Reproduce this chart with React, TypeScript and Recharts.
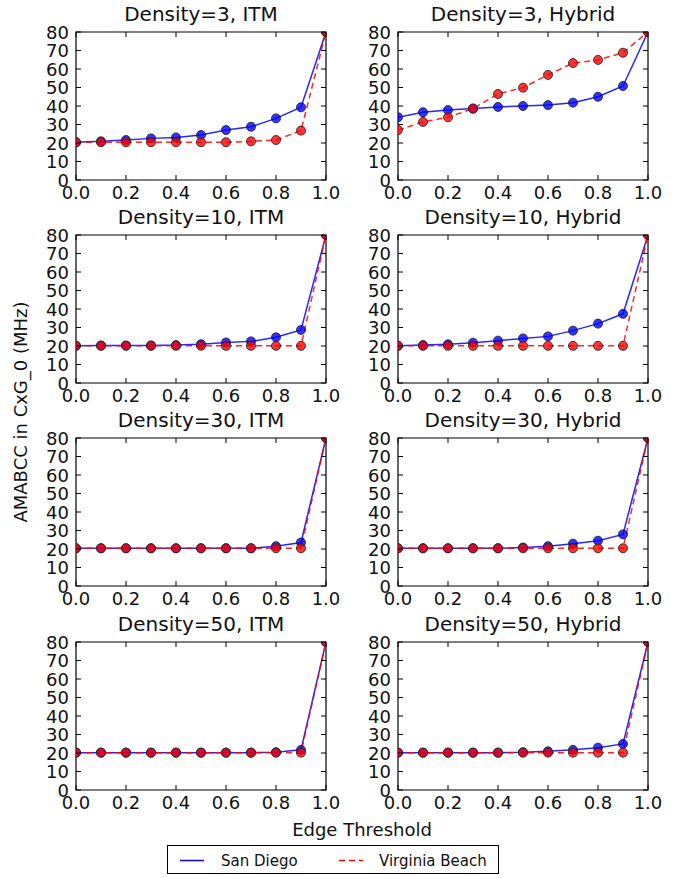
import React from 'react';
import { LineChart, Line, XAxis, YAxis, ReferenceArea } from 'recharts';

// edge threshold values on the x axis
const thresholds = [0, 0.1, 0.2, 0.3, 0.4, 0.5, 0.6, 0.7, 0.8, 0.9, 1.0];
const xTicks = [0, 0.2, 0.4, 0.6, 0.8, 1.0];
const yTicks = [0, 10, 20, 30, 40, 50, 60, 70, 80];

// San Diego (blue) / Virginia Beach (red), per density and model
const sd3Itm = [20.4, 20.9, 21.6, 22.5, 23.0, 24.3, 27.0, 28.8, 33.3, 39.3, 80];
const vb3Itm = [20.4, 20.4, 20.4, 20.4, 20.4, 20.4, 20.4, 20.9, 21.6, 26.7, 80];
const sd3Hyb = [33.9, 36.6, 37.8, 38.6, 39.5, 40.0, 40.5, 41.8, 45.0, 50.8, 80];
const vb3Hyb = [27.0, 31.4, 33.9, 38.6, 46.5, 49.9, 56.8, 63.2, 64.9, 68.8, 80];
const sd10Itm = [20.1, 20.3, 20.3, 20.3, 20.5, 21.0, 21.9, 22.5, 24.7, 28.7, 80];
const vb10Itm = [20.1, 20.1, 20.1, 20.1, 20.1, 20.1, 20.1, 20.1, 20.1, 20.1, 80];
const sd10Hyb = [20.1, 20.5, 20.9, 21.8, 22.9, 24.1, 25.2, 28.3, 32.1, 37.4, 80];
const vb10Hyb = [20.1, 20.1, 20.1, 20.1, 20.1, 20.1, 20.1, 20.1, 20.1, 20.1, 80];
const sd30Itm = [20.4, 20.4, 20.4, 20.4, 20.4, 20.4, 20.4, 20.4, 21.5, 23.5, 80];
const vb30Itm = [20.4, 20.4, 20.4, 20.4, 20.4, 20.4, 20.4, 20.4, 20.4, 20.4, 80];
const sd30Hyb = [20.4, 20.4, 20.4, 20.4, 20.4, 20.8, 21.5, 22.9, 24.5, 27.9, 80];
const vb30Hyb = [20.4, 20.4, 20.4, 20.4, 20.4, 20.4, 20.4, 20.4, 20.4, 20.4, 80];
const sd50Itm = [20.2, 20.2, 20.2, 20.2, 20.2, 20.2, 20.2, 20.2, 20.4, 21.7, 80];
const vb50Itm = [20.2, 20.2, 20.2, 20.2, 20.2, 20.2, 20.2, 20.2, 20.2, 20.2, 80];
const sd50Hyb = [20.2, 20.2, 20.2, 20.2, 20.2, 20.4, 20.9, 21.7, 22.9, 24.9, 80];
const vb50Hyb = [20.2, 20.2, 20.2, 20.2, 20.2, 20.2, 20.2, 20.2, 20.2, 20.2, 80];

const panels = [
  { title: 'Density=3, ITM', sd: sd3Itm, vb: vb3Itm },
  { title: 'Density=3, Hybrid', sd: sd3Hyb, vb: vb3Hyb },
  { title: 'Density=10, ITM', sd: sd10Itm, vb: vb10Itm },
  { title: 'Density=10, Hybrid', sd: sd10Hyb, vb: vb10Hyb },
  { title: 'Density=30, ITM', sd: sd30Itm, vb: vb30Itm },
  { title: 'Density=30, Hybrid', sd: sd30Hyb, vb: vb30Hyb },
  { title: 'Density=50, ITM', sd: sd50Itm, vb: vb50Itm },
  { title: 'Density=50, Hybrid', sd: sd50Hyb, vb: vb50Hyb },
];

const FONT = '"DejaVu Sans", Verdana, sans-serif';
const Y_AXIS_W = 40;
const M_TOP = 10;
const M_RIGHT = 18;
const PLOT_W = 250;
const PLOT_H = 148;
const X_AXIS_H = 30;
const CHART_W = Y_AXIS_W + PLOT_W + M_RIGHT;
const CHART_H = M_TOP + PLOT_H + X_AXIS_H;
const PLOT_L = Y_AXIS_W;
const PLOT_R = PLOT_L + PLOT_W;
const PLOT_T = M_TOP;
const PLOT_B = M_TOP + PLOT_H;
const TICK_LEN = 5;

const colLeft = [36, 358];
const rowPlotTop = [32, 235, 438, 642];

const XTick = ({ x, payload }: any) => (
  <g>
    <line x1={x} x2={x} y1={PLOT_B} y2={PLOT_B - TICK_LEN} stroke="#000" />
    <line x1={x} x2={x} y1={PLOT_T} y2={PLOT_T + TICK_LEN} stroke="#000" />
    <text x={x} y={PLOT_B + 19} textAnchor="middle" fontSize={18} fill="#111" fontFamily={FONT}>
      {Number(payload.value).toFixed(1)}
    </text>
  </g>
);

const YTick = ({ y, payload }: any) => (
  <g>
    <line x1={PLOT_L} x2={PLOT_L + TICK_LEN} y1={y} y2={y} stroke="#000" />
    <line x1={PLOT_R} x2={PLOT_R - TICK_LEN} y1={y} y2={y} stroke="#000" />
    <text x={PLOT_L - 7} y={y + 6.5} textAnchor="end" fontSize={18} fill="#111" fontFamily={FONT}>
      {payload.value}
    </text>
  </g>
);

const Panel = ({ sd, vb }: { sd: number[]; vb: number[] }) => {
  const data = thresholds.map((t, i) => ({ t, sd: sd[i], vb: vb[i] }));
  return (
    <LineChart
      width={CHART_W}
      height={CHART_H}
      data={data}
      margin={{ top: M_TOP, right: M_RIGHT, left: 0, bottom: 0 }}
    >
      <XAxis
        dataKey="t"
        type="number"
        domain={[0, 1]}
        ticks={xTicks}
        allowDataOverflow
        axisLine={false}
        tickLine={false}
        tickSize={0}
        height={X_AXIS_H}
        interval={0}
        tick={<XTick />}
      />
      <YAxis
        type="number"
        domain={[0, 80]}
        ticks={yTicks}
        allowDataOverflow
        axisLine={false}
        tickLine={false}
        tickSize={0}
        width={Y_AXIS_W}
        interval={0}
        tick={<YTick />}
      />
      <Line
        dataKey="sd"
        stroke="#0000ff"
        strokeOpacity={0.85}
        strokeWidth={1.5}
        dot={{ r: 4.5, fill: '#0000ff', fillOpacity: 0.8, stroke: '#222', strokeWidth: 1 }}
        isAnimationActive={false}
      />
      <Line
        dataKey="vb"
        stroke="#ff0000"
        strokeOpacity={0.85}
        strokeWidth={1.5}
        strokeDasharray="6 4"
        dot={{ r: 4.5, fill: '#ff0000', fillOpacity: 0.8, stroke: '#222', strokeWidth: 1, strokeDasharray: '' }}
        isAnimationActive={false}
      />
      <ReferenceArea x1={0} x2={1} y1={0} y2={80} fill="none" stroke="#000" strokeWidth={1.2} />
    </LineChart>
  );
};

export default function App() {
  return (
    <div
      style={{
        position: 'absolute',
        left: 0,
        top: 0,
        width: 684,
        height: 878,
        background: '#fff',
        fontFamily: FONT,
        color: '#111',
      }}
    >
      {panels.map((p, i) => {
        const col = i % 2;
        const row = Math.floor(i / 2);
        const left = colLeft[col];
        const top = rowPlotTop[row] - M_TOP;
        return (
          <div key={p.title} style={{ position: 'absolute', left, top }}>
            <div
              style={{
                position: 'absolute',
                left: PLOT_L,
                width: PLOT_W,
                top: M_TOP - 30,
                textAlign: 'center',
                fontSize: 20,
                lineHeight: '24px',
                whiteSpace: 'nowrap',
              }}
            >
              {p.title}
            </div>
            <Panel sd={p.sd} vb={p.vb} />
          </div>
        );
      })}

      <div
        style={{
          position: 'absolute',
          left: 20,
          top: 412,
          transform: 'translate(-50%, -50%) rotate(-90deg)',
          fontSize: 18,
          whiteSpace: 'nowrap',
        }}
      >
        AMABCC in CxG_0 (MHz)
      </div>

      <div
        style={{
          position: 'absolute',
          left: 362,
          top: 829,
          transform: 'translate(-50%, -50%)',
          fontSize: 18,
          whiteSpace: 'nowrap',
        }}
      >
        Edge Threshold
      </div>

      <div
        style={{
          position: 'absolute',
          left: 167,
          top: 845,
          width: 332,
          height: 29,
          border: '1px solid #000',
          boxSizing: 'border-box',
          fontSize: 15,
        }}
      >
        <svg width={330} height={27} style={{ position: 'absolute', left: 0, top: 0 }}>
          <line x1={12} x2={36} y1={14.5} y2={14.5} stroke="#0000ff" strokeWidth={1.5} />
          <line x1={171} x2={195} y1={14.5} y2={14.5} stroke="#ff0000" strokeWidth={1.5} strokeDasharray="6 4" />
          <text x={53} y={20} fontSize={15} fontFamily={FONT} fill="#111">San Diego</text>
          <text x={211} y={20} fontSize={15} fontFamily={FONT} fill="#111">Virginia Beach</text>
        </svg>
      </div>
    </div>
  );
}
